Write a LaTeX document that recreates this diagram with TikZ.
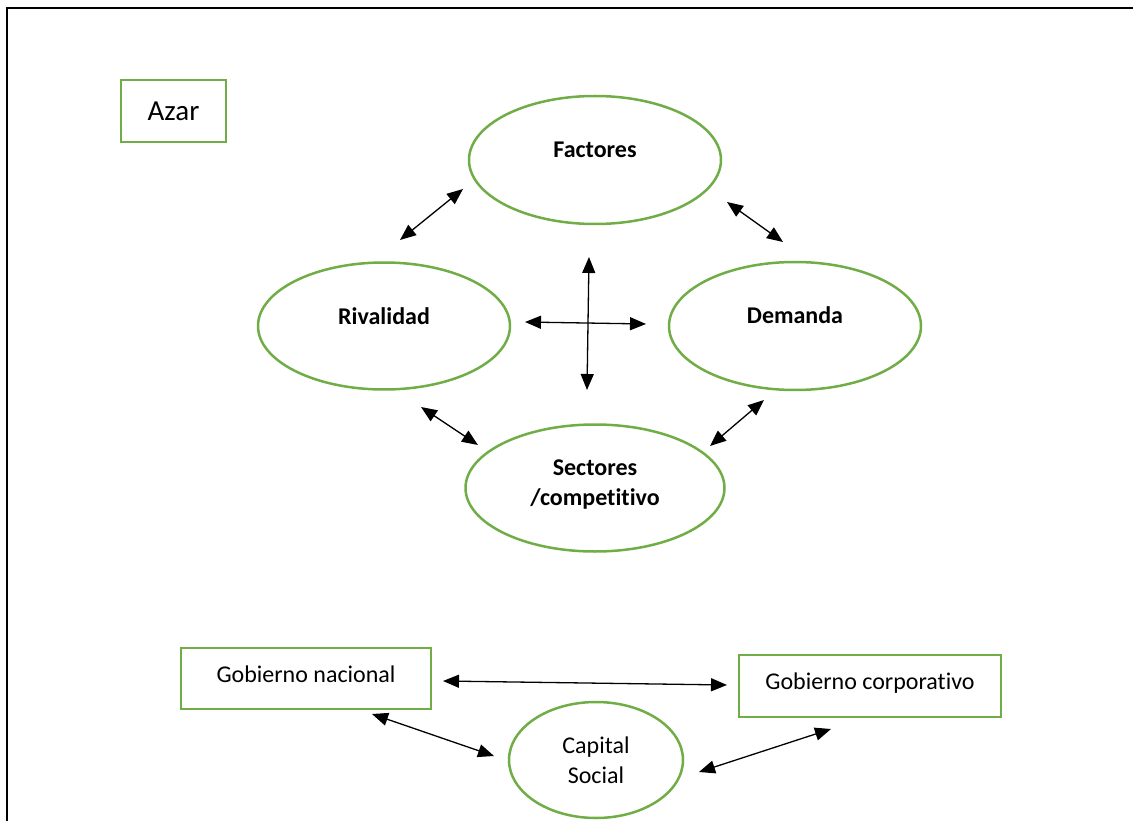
\documentclass[tikz,border=0pt]{standalone}
\usepackage{fontspec}
\setmainfont{Carlito}[Ligatures={NoCommon,NoContextual},Contextuals=NoAlternate]
\usetikzlibrary{arrows.meta,shapes.geometric}
\definecolor{leaf}{RGB}{112,173,71}

\tikzset{
  oval/.style={ellipse,draw=leaf,line width=2.5pt,inner sep=0pt,align=center},
  box/.style={rectangle,draw=leaf,line width=2.5pt,inner sep=0pt},
  lbl/.style={font=\fontsize{24}{30}\selectfont\bfseries},
  dbl/.style={{Triangle[length=16pt,width=13pt]}-{Triangle[length=16pt,width=13pt]},line width=1.3pt}
}

\begin{document}
\begin{tikzpicture}[x=1pt,y=-1pt,font=\fontsize{24}{30}\selectfont]
\useasboundingbox (0,0) rectangle (1133,821);
% frame
\draw[line width=2pt] (7,830) -- (7,8) -- (1145,8);

\node[box,minimum width=105,minimum height=62,font=\fontsize{29}{34}\selectfont] (azar) at (173.5,111) {Azar};

% diamond
\node[oval,minimum width=252,minimum height=128,label={[lbl,yshift=10pt]center:Factores}] (fact) at (595,160) {};
\node[oval,minimum width=252,minimum height=127,label={[lbl,yshift=10pt]center:Rivalidad}] (rival) at (384,326) {};
\node[oval,minimum width=252,minimum height=128,label={[lbl,yshift=11pt]center:Demanda}] (dem) at (795,326) {};
\node[oval,minimum width=259,minimum height=127,label={[lbl,align=center,yshift=3pt]center:Sectores\\/competi{}tivo}] (sect) at (595,488) {};

% arrow ends
\coordinate (rf1) at (400,240); \coordinate (rf2) at (463,189);
\coordinate (fd1) at (727,202); \coordinate (fd2) at (783,242);
\coordinate (v1) at (589,257); \coordinate (v2) at (587,390);
\coordinate (h1) at (525,322); \coordinate (h2) at (646,324);
\coordinate (rs1) at (421,407); \coordinate (rs2) at (478,445);
\coordinate (ds1) at (764,400); \coordinate (ds2) at (710,446);

\draw[dbl] (rf1) -- (rf2);
\draw[dbl] (fd1) -- (fd2);
\draw[dbl] (v1) -- (v2);
\draw[dbl] (h1) -- (h2);
\draw[dbl] (rs1) -- (rs2);
\draw[dbl] (ds1) -- (ds2);

% governance
\node[box,minimum width=250,minimum height=61] (gnac) at (306,678.5) {};
\node at ([yshift=4pt]gnac.center) {Gobierno nacional};
\node[box,minimum width=262,minimum height=62] (gcorp) at (870,686) {};
\node at ([yshift=3pt]gcorp.center) {Gobierno corporati{}vo};
\node[oval,minimum width=174,minimum height=116] (cap) at (596,760) {Capital\\Social};

\coordinate (g1) at (443,681); \coordinate (g2) at (727,685);
\coordinate (gc1) at (372,714); \coordinate (gc2) at (494,756);
\coordinate (cg1) at (699,772); \coordinate (cg2) at (831,729);

\draw[dbl] (g1) -- (g2);
\draw[dbl] (gc1) -- (gc2);
\draw[dbl] (cg1) -- (cg2);
\end{tikzpicture}
\end{document}
